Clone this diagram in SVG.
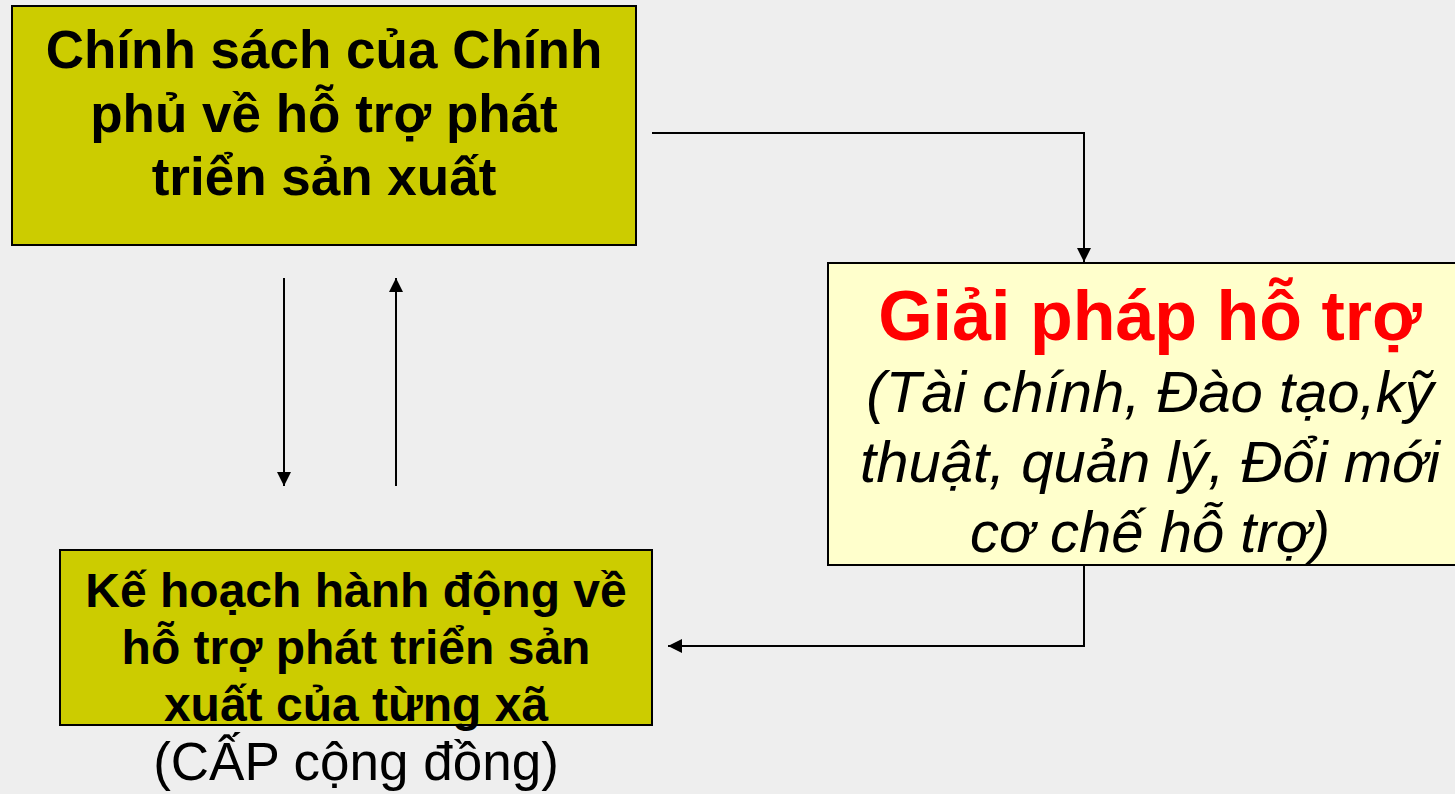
<svg xmlns="http://www.w3.org/2000/svg" width="1455" height="794" viewBox="0 0 1455 794">
<defs>
<marker id="arr" viewBox="0 0 10 10" refX="10" refY="5" markerWidth="7" markerHeight="7" markerUnits="strokeWidth" orient="auto">
<path d="M0,0 L10,5 L0,10 z" fill="#000"/>
</marker>
<style>
.box{stroke:#000;stroke-width:2}
.olive{fill:#CCCC00}
.cream{fill:#FFFFCC}
.t{font-family:"Liberation Sans",Arial,sans-serif;text-anchor:middle;fill:#000}
.b{font-weight:bold}
.conn{fill:none;stroke:#000;stroke-width:2;marker-end:url(#arr)}
</style>
</defs>
<rect width="1455" height="794" fill="#EEEEEE"/>
<g id="node-chinh-sach">
<rect class="box olive" x="12" y="6" width="624" height="239"/>
<text class="t b" font-size="53"><tspan x="324" y="68">Chính sách của Chính</tspan><tspan x="324" y="132">phủ về hỗ trợ phát</tspan><tspan x="324" y="195">triển sản xuất</tspan></text>
</g>
<g id="node-giai-phap">
<rect class="box cream" x="828" y="263" width="650" height="302"/>
<text class="t b" font-size="70" fill="#FF0000" style="fill:#FF0000" x="1150" y="340">Giải pháp hỗ trợ</text>
<text class="t" font-size="58" font-style="italic"><tspan x="1150" y="412">(Tài chính, Đào tạo,kỹ</tspan><tspan x="1150" y="482">thuật, quản lý, Đổi mới</tspan><tspan x="1150" y="552">cơ chế hỗ trợ)</tspan></text>
</g>
<g id="node-ke-hoach">
<rect class="box olive" x="60" y="550" width="592" height="175"/>
<text class="t b" font-size="48"><tspan x="356" y="607">Kế hoạch hành động về</tspan><tspan x="356" y="664">hỗ trợ phát triển sản</tspan><tspan x="356" y="721">xuất của từng xã</tspan></text>
<text class="t" font-size="53" x="356" y="780">(CẤP cộng đồng)</text>
</g>
<g id="connectors">
<path class="conn" d="M652,133 H1084 V262"/>
<path class="conn" d="M284,278 V486"/>
<path class="conn" d="M396,486 V278"/>
<path class="conn" d="M1084,566 V646 H668"/>
</g>
</svg>
